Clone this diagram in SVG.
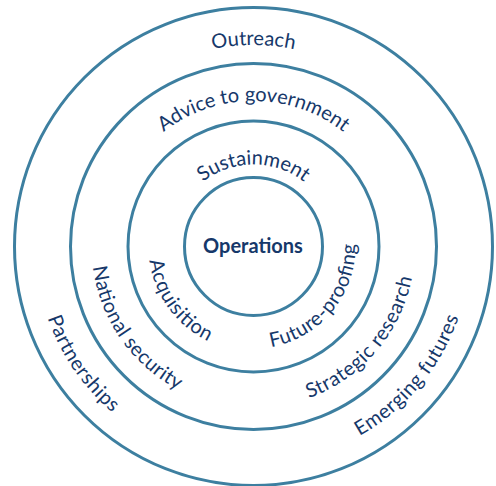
<svg xmlns="http://www.w3.org/2000/svg" width="496" height="486" viewBox="0 0 496 486">
<style>
.ring{fill:none;stroke:#3d7fa0;stroke-width:3}
.lbl{font-family:Lato,"Liberation Sans",sans-serif;font-size:20px;fill:#16386a}
.ctr{font-family:Lato,"Liberation Sans",sans-serif;font-size:20px;font-weight:bold;fill:#16386a}
</style>
<defs>
<path id="pOut" d="M 52,246.5 A 201.5 201.5 0 0 1 455,246.5"/>
<path id="pAdv" d="M 108,246.5 A 145.5 145.5 0 0 1 399,246.5"/>
<path id="pSus" d="M 171.5,246.5 A 82 82 0 0 1 335.5,246.5"/>
<path id="pAcq" d="M 184.61,167.26 A 105 105 0 0 0 307.58,336.5"/>
<path id="pNat" d="M 150.01,121.86 A 162 162 0 0 0 333.77,387.21"/>
<path id="pPar" d="M 115.14,78.05 A 218 218 0 0 0 360.52,436.42"/>
<path id="pFut" d="M 195.87,330.66 A 102 102 0 0 0 324.87,173.62"/>
<path id="pStr" d="M 159.72,377.98 A 161.5 161.5 0 0 0 368.7,133.3"/>
<path id="pEme" d="M 129.29,424.44 A 217 217 0 0 0 406.68,92.8"/>
</defs>
<g id="rings">
<circle id="ring-outer" class="ring" cx="253.5" cy="246.5" r="239"/>
<circle id="ring-3" class="ring" cx="253.5" cy="246.5" r="183"/>
<circle id="ring-2" class="ring" cx="253.5" cy="246.5" r="125.5"/>
<circle id="ring-inner" class="ring" cx="253.5" cy="246.5" r="69"/>
</g>
<g id="connectors"></g>
<g id="node-operations"><text class="ctr" x="253" y="253" text-anchor="middle">Operations</text></g>
<g id="node-outreach"><text class="lbl" text-anchor="middle"><textPath href="#pOut" startOffset="50%">Outreach</textPath></text></g>
<g id="node-advice"><text class="lbl" text-anchor="middle"><textPath href="#pAdv" startOffset="50%">Advice to government</textPath></text></g>
<g id="node-sustainment"><text class="lbl" text-anchor="middle"><textPath href="#pSus" startOffset="50%">Sustainment</textPath></text></g>
<g id="node-acquisition"><text class="lbl" text-anchor="middle"><textPath href="#pAcq" startOffset="50%" textLength="104" lengthAdjust="spacing">Acquisition</textPath></text></g>
<g id="node-national"><text class="lbl" text-anchor="middle"><textPath href="#pNat" startOffset="50%" textLength="155" lengthAdjust="spacing">National security</textPath></text></g>
<g id="node-partnerships"><text class="lbl" text-anchor="middle"><textPath href="#pPar" startOffset="50%" textLength="116" lengthAdjust="spacing">Partnerships</textPath></text></g>
<g id="node-future"><text class="lbl" text-anchor="middle"><textPath href="#pFut" startOffset="50%" textLength="145" lengthAdjust="spacing">Future-proofing</textPath></text></g>
<g id="node-strategic"><text class="lbl" text-anchor="middle"><textPath href="#pStr" startOffset="50%" textLength="166" lengthAdjust="spacing">Strategic research</textPath></text></g>
<g id="node-emerging"><text class="lbl" text-anchor="middle"><textPath href="#pEme" startOffset="50%" textLength="158" lengthAdjust="spacing">Emerging futures</textPath></text></g>
</svg>
